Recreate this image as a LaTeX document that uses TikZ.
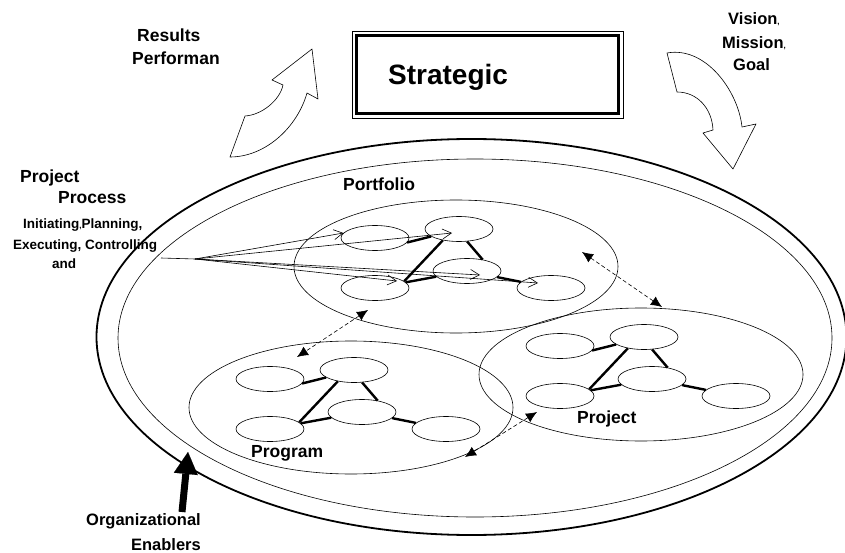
\documentclass[tikz,border=0pt]{standalone}
\usepackage{fontspec}
\setmainfont{Liberation Sans}
\usetikzlibrary{arrows.meta,shapes.geometric}
\newcommand{\tinycomma}{{\fontsize{8}{8}\selectfont,}}

\begin{document}
\begin{tikzpicture}[x=1pt,y=-1pt,
		txt/.style={font=\bfseries\fontsize{17.5}{20}\selectfont,inner sep=0pt,anchor=base west},
		task/.style={ellipse,draw,line width=0.6pt,minimum width=68pt,minimum height=25pt,inner sep=0pt},
		cluster/.style={ellipse,draw,line width=0.6pt,minimum width=324pt,minimum height=133pt,inner sep=0pt},
		link/.style={line width=2.4pt},
		flow/.style={line width=0.6pt,-{Straight Barb[length=9pt,width=10pt]}},
		dlink/.style={line width=0.6pt,dash pattern=on 4pt off 2.5pt,{Latex[length=11pt,width=10pt]}-{Latex[length=11pt,width=10pt]}},
		blockarrow/.style={draw,fill=white,line width=0.6pt,line join=round}]
	\useasboundingbox (0,0) rectangle (845,553);
	% organisation
	\draw[line width=1.8pt] (471.5,337) ellipse [x radius=375, y radius=198];
	\draw[line width=0.6pt] (475,338) ellipse [x radius=357, y radius=179];
	% strategic level
	\node[draw,line width=0.8pt,minimum width=271pt,minimum height=87pt,inner sep=0pt] (box) at (487.5,74.5) {};
	\draw[line width=2.5pt] ([shift={(5,5)}]box.north west) rectangle ([shift={(-5,-5)}]box.south east);
	\node[txt,font=\bfseries\fontsize{28}{32}\selectfont] (strat) at (388,85) {Strategic};
	\draw[blockarrow] (230,157) -- (245,116) .. controls (262,115) and (280,100) .. (283,85) -- (272,80) -- (312,49) -- (318,99) -- (307,93) .. controls (297,128) and (265,157) .. (230,157) -- cycle;
	\draw[blockarrow] (667,53) -- (677,92) .. controls (697,92) and (712,108) .. (713,130) -- (703,133) -- (733,169) -- (756,124) -- (742,127) .. controls (738,90) and (705,46) .. (667,53) -- cycle;
	% portfolio, program, project
	\foreach \g/\x/\y in {P/375/238,G/270/379,J/560/346}{
		\node[cluster] (\g0) at (\x+81,\y+28.5) {};
		\node[task] (\g1) at (\x,\y) {};
		\node[task] (\g2) at (\x+84,\y-9) {};
		\node[task] (\g3) at (\x+92,\y+33) {};
		\node[task] (\g4) at (\x,\y+50) {};
		\node[task] (\g5) at (\x+176,\y+50) {};
		\draw[link] (\g1.-8) -- (\g2.-165);
		\draw[link] (\g2.215) -- (\g4.13);
		\draw[link] (\g2.-57) -- (\g3.36);
		\draw[link] (\g4) -- (\g3);
		\draw[link] (\g3) -- (\g5);
	}
	% process fan
	\coordinate (src) at (161,258);
	\coordinate (fan) at (195,259);
	\draw[line width=0.6pt] (src) -- (fan);
	\draw[flow] (fan) -- (P1.171);
	\draw[flow] (fan) -- ([shift={(-7,4)}]P2.center);
	\draw[flow] (fan) -- ([shift={(13,4)}]P3.center);
	\draw[flow] (fan) -- ([shift={(22,-7)}]P4.center);
	\draw[flow] (fan) -- ([shift={(-13,-5)}]P5.center);
	% relations
	\coordinate (pf-pg) at (368,310); \coordinate (pg-pf) at (297,357);
	\coordinate (pf-pj) at (582,252); \coordinate (pj-pf) at (662,307);
	\coordinate (pj-pg) at (537,412); \coordinate (pg-pj) at (465,457);
	\draw[dlink] (pf-pg) -- (pg-pf);
	\draw[dlink] (pf-pj) -- (pj-pf);
	\draw[dlink] (pj-pg) -- (pg-pj);
	% enablers
	\coordinate (oe-tail) at (182,512);
	\coordinate (oe-tip) at (188,452);
	\draw[line width=7pt,-{Triangle[length=22pt,width=24pt,line width=0.1pt]}] (oe-tail) -- (oe-tip);
	% labels
	\node[txt] (res1) at (137,42) {Results};
	\node[txt] (res2) at (132,65) {Performan};
	\node[txt,font=\bfseries\fontsize{16.5}{20}\selectfont] (vis1) at (728,25) {Vision\tinycomma};
	\node[txt,font=\bfseries\fontsize{16.5}{20}\selectfont] (vis2) at (722,49) {Mission\tinycomma};
	\node[txt,font=\bfseries\fontsize{16.5}{20}\selectfont] (vis3) at (733,71) {Goal};
	\node[txt] (pp1) at (20,183) {Project};
	\node[txt] (pp2) at (58,204) {Process};
	\node[txt,font=\bfseries\fontsize{13.5}{16}\selectfont] (pp3) at (23,229) {Initiating\tinycomma Planning,};
	\node[txt,font=\bfseries\fontsize{13.5}{16}\selectfont] (pp4) at (13,249) {Executing, Controlling};
	\node[txt,font=\bfseries\fontsize{13.5}{16}\selectfont] (pp5) at (52,268) {and};
	\node[txt] (lpf) at (343,191) {Portfolio};
	\node[txt] (lpg) at (251,457) {Program};
	\node[txt] (lpj) at (577,423) {Project};
	\node[txt,anchor=base east,font=\bfseries\fontsize{16.5}{20}\selectfont] (oe1) at (201,525) {Organizational};
	\node[txt,anchor=base east,font=\bfseries\fontsize{16.5}{20}\selectfont] (oe2) at (201,550) {Enablers};
\end{tikzpicture}
\end{document}
